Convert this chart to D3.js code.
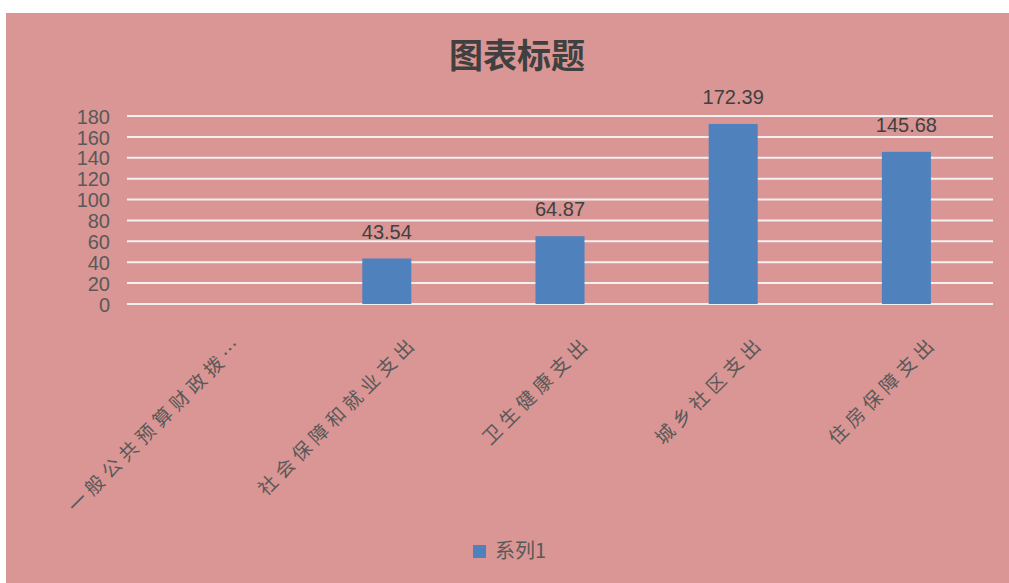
<!DOCTYPE html>
<html><head><meta charset="utf-8">
<script src="https://cdn.jsdelivr.net/npm/d3@7"></script>
<style>
html,body{margin:0;padding:0;background:#fff;}
svg{display:block;}
</style>
</head><body>
<svg id="chart" width="1009" height="583"></svg>
<script>
const categories = ["一般公共预算财政拨…","社会保障和就业支出","卫生健康支出","城乡社区支出","住房保障支出"];
const values = [null, 43.54, 64.87, 172.39, 145.68];
const yTicks = [0,20,40,60,80,100,120,140,160,180];
const title = "图表标题";
const seriesName = "系列1";

(function(){
const svg = d3.select("#chart");
const W = 1009, H = 583;
const bg = "#D99694";
const barColor = "#4F81BD";
const textColor = "#595959";

svg.append("rect").attr("x",6).attr("y",13).attr("width",W-6).attr("height",H-13).attr("fill",bg);

const pLeft = 127, pRight = 993, pTop = 116, pBottom = 304;
const x = d3.scaleBand().domain(categories).range([pLeft,pRight]).paddingInner(0.717).paddingOuter(0.3585);
const y = d3.scaleLinear().domain([0,180]).range([pBottom,pTop]);

// grid
svg.append("g").selectAll("line").data(yTicks).join("line")
  .attr("x1",pLeft).attr("x2",pRight)
  .attr("y1",d=>y(d)).attr("y2",d=>y(d))
  .attr("stroke","#F5F0F0").attr("stroke-width",2);

// y axis labels
const yAxis = d3.axisLeft(y).tickValues(yTicks).tickSize(0).tickPadding(0);
const yg = svg.append("g").attr("transform",`translate(${pLeft-17},0)`).call(yAxis);
yg.select(".domain").remove();
yg.selectAll("text").attr("fill",textColor).style("font-family","'Liberation Sans', Arial, sans-serif").style("font-size","20px").attr("dy","0.36em");

// bars
const data = categories.map((c,i)=>({c, v: values[i]})).filter(d=>d.v!=null);
svg.append("g").selectAll("rect").data(data).join("rect")
  .attr("x",d=>x(d.c)).attr("width",x.bandwidth())
  .attr("y",d=>y(d.v)).attr("height",d=>y(0)-y(d.v))
  .attr("fill",barColor);

// data labels
svg.append("g").selectAll("text").data(data).join("text")
  .attr("x",d=>x(d.c)+x.bandwidth()/2).attr("y",d=>y(d.v)-20)
  .attr("text-anchor","middle").attr("fill","#404040")
  .style("font-family","'Liberation Sans', Arial, sans-serif").style("font-size","20px")
  .text(d=>d.v.toFixed(2));

// x labels rotated
const xg = svg.append("g");
categories.forEach(c=>{
  const cx = x(c)+x.bandwidth()/2 + 32;
  const cy = 344;
  xg.append("text")
    .attr("transform",`translate(${cx},${cy}) rotate(-45)`)
    .attr("text-anchor","end").attr("fill",textColor)
    .style("font-family","'Noto Sans CJK SC', sans-serif").style("font-size","19px")
    .style("letter-spacing","5px")
    .text(c);
});

// title
svg.append("text").attr("x",517).attr("y",68).attr("text-anchor","middle")
  .attr("fill","#404040").style("font-family","'Noto Sans CJK SC', sans-serif")
  .style("font-size","34px").style("font-weight","bold").text(title);

// legend
svg.append("rect").attr("x",473).attr("y",545).attr("width",13).attr("height",13).attr("fill",barColor);
svg.append("text").attr("x",495).attr("y",558).attr("fill",textColor)
  .style("font-family","'Noto Sans CJK SC', sans-serif").style("font-size","20px").text(seriesName);
})();
</script>
</body></html>
